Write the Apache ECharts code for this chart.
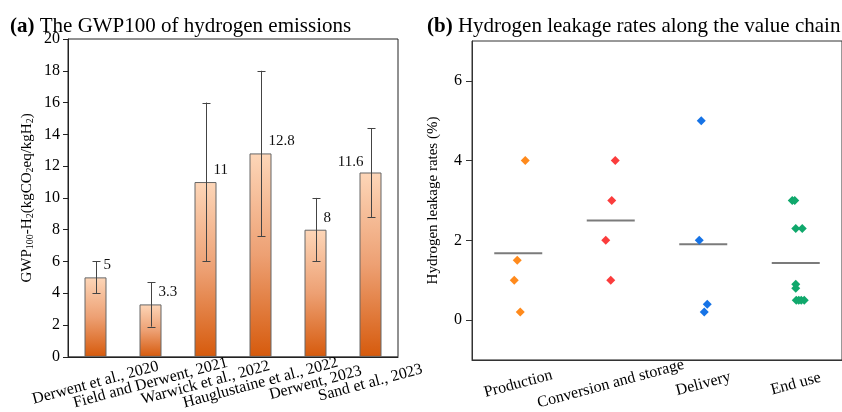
<!DOCTYPE html>
<html><head><meta charset="utf-8">
<script src="https://cdn.jsdelivr.net/npm/echarts@6/dist/echarts.min.js"></script>
<style>html,body{margin:0;padding:0;background:#fff}#c{width:842px;height:412px}</style>
</head><body><div id="c"></div>
<script>
// ---- data ----
const studies = ['Derwent et al., 2020', 'Field and Derwent, 2021', 'Warwick et al., 2022', 'Hauglustaine et al., 2022', 'Derwent, 2023', 'Sand et al., 2023'];
const gwp = [5, 3.3, 11, 12.8, 8, 11.6];
const gwpLow = [4, 1.9, 6, 7.6, 6, 8.8];
const gwpHigh = [6, 4.7, 16, 18, 10, 14.4];
const gwpTicks = [0, 2, 4, 6, 8, 10, 12, 14, 16, 18, 20];

const stages = ['Production', 'Conversion and storage', 'Delivery', 'End use'];
const production = [4, 1.5, 1, 0.2];
const conversion = [4, 3, 2, 1];
const delivery = [5, 2, 0.4, 0.2];
const endUse = [3, 3, 2.3, 2.3, 0.9, 0.8, 0.5, 0.5, 0.5, 0.5];
const leakTicks = [0, 2, 4, 6];

// ---- styling ----
const FONT = 'Liberation Serif';
const stageValues = [production, conversion, delivery, endUse];
const stageColors = ['#ff8a1c', '#fb3c3c', '#1673e6', '#10a86c'];
// horizontal jitter of the points, in pixels (visual spreading only)
const jitterPx = [[7, -1, -4, 2], [4.5, 1, -5, 0], [-2, -4, 4, 1], [-3.5, -1, 0, 6.5, 0, 0, 0.5, 3, 5.5, 8.5]];
const means = stageValues.map(a => a.reduce((s, v) => s + v, 0) / a.length);

const chart = echarts.init(document.getElementById('c'), null, {renderer: 'canvas'});

const barGradient = new echarts.graphic.LinearGradient(0, 0, 0, 1, [
  {offset: 0, color: '#fdd6b8'},
  {offset: 0.5, color: '#eda073'},
  {offset: 1, color: '#d65a0c'}
]);

const barData = gwp.map((v, i) => {
  const left = i === 5;
  return {
    value: v,
    label: left
      ? {position: [4, -10], align: 'right', verticalAlign: 'middle'}
      : {position: [19, -12], align: 'left', verticalAlign: 'middle'}
  };
});

const series = [
  {
    type: 'bar', xAxisIndex: 0, yAxisIndex: 0, barWidth: 22,
    data: barData,
    itemStyle: {color: barGradient, borderColor: '#666', borderWidth: 1},
    label: {show: true, fontFamily: FONT, fontSize: 15, color: '#111', formatter: p => String(p.value)},
    z: 2
  },
  {
    type: 'custom', xAxisIndex: 0, yAxisIndex: 0,
    data: gwp.map((v, i) => [i, gwpLow[i], gwpHigh[i]]),
    renderItem: function (params, api) {
      const lo = api.coord([api.value(0), api.value(1)]);
      const hi = api.coord([api.value(0), api.value(2)]);
      const x = Math.round(lo[0]) + 0.5;
      const cw = 4;
      const st = {stroke: '#444', lineWidth: 1};
      return {
        type: 'group', children: [
          {type: 'line', shape: {x1: x, y1: hi[1], x2: x, y2: lo[1]}, style: st},
          {type: 'line', shape: {x1: x - cw, y1: Math.round(hi[1]) + 0.5, x2: x + cw, y2: Math.round(hi[1]) + 0.5}, style: st},
          {type: 'line', shape: {x1: x - cw, y1: Math.round(lo[1]) + 0.5, x2: x + cw, y2: Math.round(lo[1]) + 0.5}, style: st}
        ]
      };
    },
    z: 5
  },
  {
    type: 'scatter', xAxisIndex: 1, yAxisIndex: 1,
    symbol: 'rect', symbolSize: [48, 2],
    itemStyle: {color: '#5a5a5a'},
    data: means.map((m, i) => [i, m]),
    z: 2
  }
];

stageValues.forEach((vals, i) => {
  series.push({
    type: 'scatter', xAxisIndex: 1, yAxisIndex: 1,
    symbol: 'diamond', symbolSize: 9,
    itemStyle: {color: stageColors[i], opacity: 1},
    data: vals.map((v, j) => ({value: [i, v], symbolOffset: [jitterPx[i][j], 0]})),
    z: 3
  });
});

const titleRich = {
  b: {fontFamily: FONT, fontWeight: 'bold', fontSize: 21, color: '#000'},
  n: {fontFamily: FONT, fontWeight: 'normal', fontSize: 21, color: '#000'}
};

const option = {
  backgroundColor: '#fff',
  animation: false,
  title: [
    {text: '{b|(a)} {n|The GWP100 of hydrogen emissions}', left: 5, top: 11,
      textStyle: {fontFamily: FONT, fontWeight: 'normal', fontSize: 21, rich: titleRich}},
    {text: '{b|(b)} {n|Hydrogen leakage rates along the value chain}', left: 422, top: 11,
      textStyle: {fontFamily: FONT, fontWeight: 'normal', fontSize: 21, rich: titleRich}}
  ],
  grid: [
    {left: 68, top: 39, width: 330, height: 320, show: true, borderColor: '#222', borderWidth: 1, backgroundColor: 'transparent'},
    {left: 472, top: 41, width: 372, height: 322, show: true, borderColor: '#333', borderWidth: 1, backgroundColor: 'transparent'}
  ],
  xAxis: [
    {
      type: 'category', gridIndex: 0, data: studies,
      axisLine: {lineStyle: {color: '#222', width: 1}},
      axisTick: {show: false},
      axisLabel: {interval: 0, rotate: 15, align: 'center', verticalAlign: 'middle', margin: 26, fontFamily: FONT, fontSize: 16, color: '#000', hideOverlap: false}
    },
    {
      type: 'category', gridIndex: 1, data: stages,
      axisLine: {onZero: false, lineStyle: {color: '#333', width: 1}},
      axisTick: {show: false},
      axisLabel: {interval: 0, rotate: 15, align: 'center', verticalAlign: 'middle', margin: 24, fontFamily: FONT, fontSize: 16, color: '#000', hideOverlap: false}
    }
  ],
  yAxis: [
    {
      type: 'value', gridIndex: 0, min: 0, max: 20, interval: 2,
      name: 'GWP{s|100}-H{s|2}(kgCO{s|2}eq/kgH{s|2})',
      nameLocation: 'middle', nameGap: 33, nameRotate: 90,
      nameTextStyle: {fontFamily: FONT, fontSize: 15, color: '#000',
        rich: {s: {fontFamily: FONT, fontSize: 10, color: '#000', verticalAlign: 'bottom', padding: [6, 0, 0, 0]}}},
      axisLine: {show: true, lineStyle: {color: '#222', width: 1}},
      axisTick: {show: true, length: 5, lineStyle: {color: '#222'}},
      axisLabel: {fontFamily: FONT, fontSize: 16, color: '#000', margin: 8},
      splitLine: {show: false}
    },
    {
      type: 'value', gridIndex: 1, min: -1, max: 7,
      name: 'Hydrogen leakage rates (%)',
      nameLocation: 'middle', nameGap: 31, nameRotate: 90,
      nameTextStyle: {fontFamily: FONT, fontSize: 15, color: '#000'},
      axisLine: {show: true, lineStyle: {color: '#333', width: 1}},
      axisTick: {show: true, length: 6, customValues: leakTicks, lineStyle: {color: '#333'}},
      axisLabel: {fontFamily: FONT, fontSize: 16, color: '#000', margin: 10, customValues: leakTicks},
      splitLine: {show: false}
    }
  ],
  series: series
};

chart.setOption(option);
</script>
</body></html>
